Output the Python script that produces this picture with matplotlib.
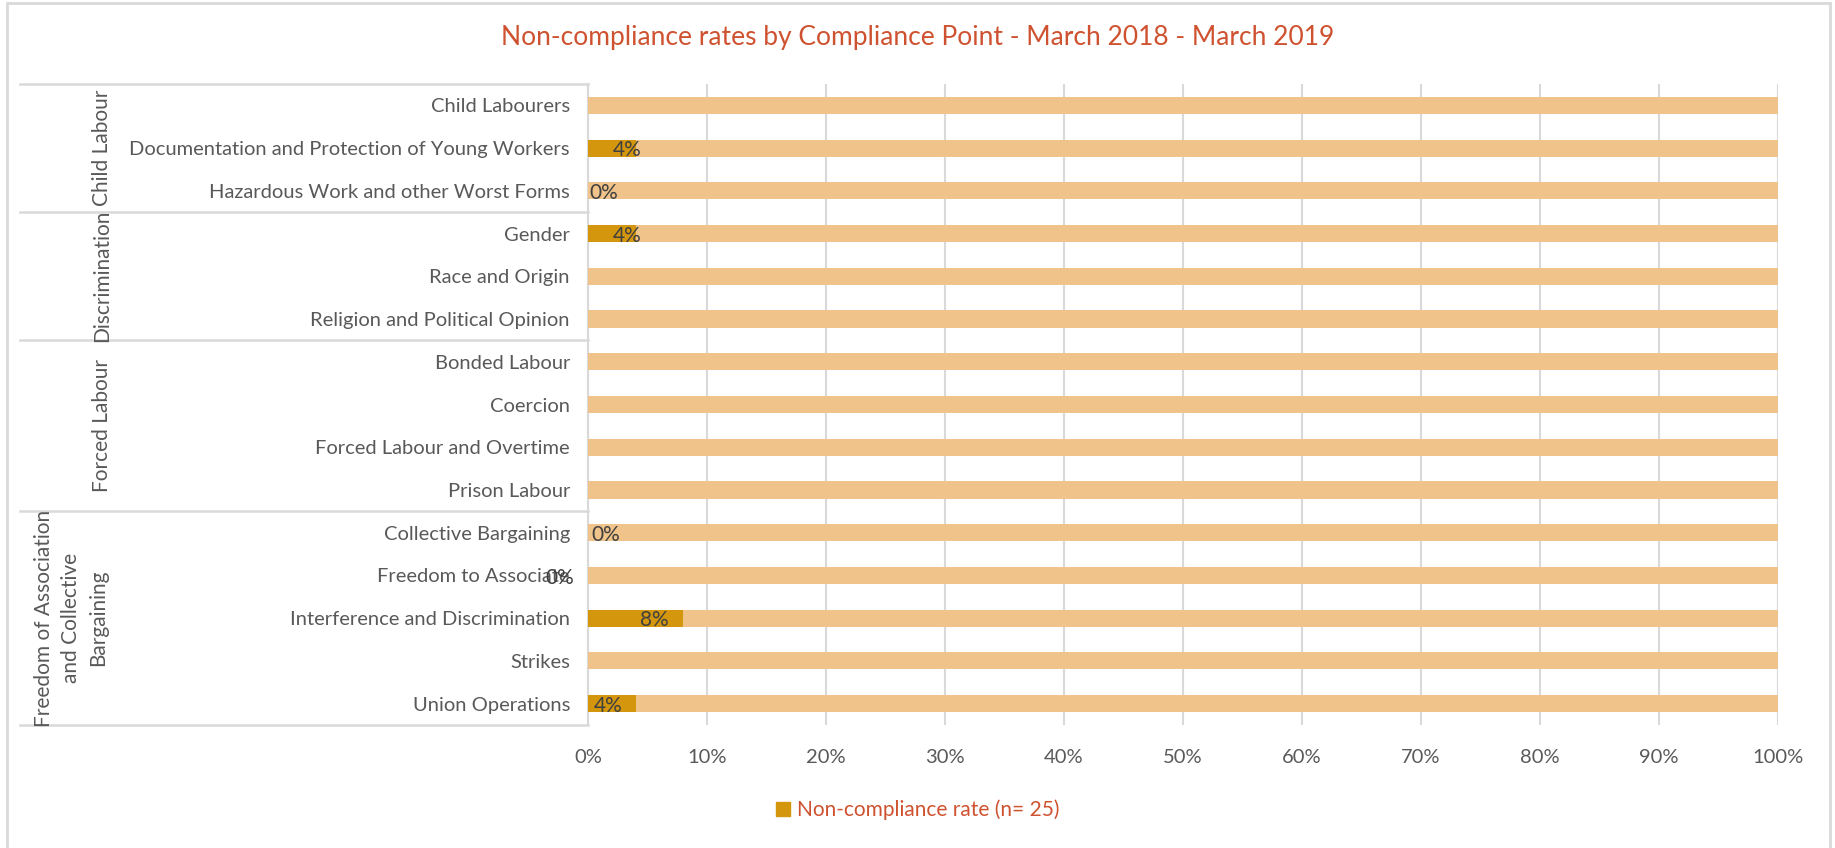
import numpy as np
import matplotlib
matplotlib.use("Agg")
import matplotlib.pyplot as plt
from matplotlib.patches import Patch, Rectangle
from matplotlib.transforms import blended_transform_factory

plt.rcParams['font.family'] = ['Lato', 'DejaVu Sans']

categories = [
    "Child Labourers",
    "Documentation and Protection of Young Workers",
    "Hazardous Work and other Worst Forms",
    "Gender",
    "Race and Origin",
    "Religion and Political Opinion",
    "Bonded Labour",
    "Coercion",
    "Forced Labour and Overtime",
    "Prison Labour",
    "Collective Bargaining",
    "Freedom to Associate",
    "Interference and Discrimination",
    "Strikes",
    "Union Operations",
]
# non-compliance rate in %, nan = no value shown
rates = [np.nan, 4, 0, 4, np.nan, np.nan, np.nan, np.nan, np.nan, np.nan,
         0, 0, 8, np.nan, 4]

groups = ["Child Labour", "Discrimination", "Forced Labour",
          "Freedom of Association\nand Collective\nBargaining"]
group_sizes = [3, 3, 4, 5]

# where excel left the data labels (x in %)
label_x = [None, 3.3, 1.3, 3.3, None, None, None, None, None, None,
           1.5, -2.4, 5.6, None, 1.7]

title = "Non-compliance rates by Compliance Point - March 2018 - March 2019"
legend_label = "Non-compliance rate (n= 25)"

dark = "#D3960D"
light = "#EFC389"
grey_txt = "#595959"
grid_c = "#D9D9D9"
red_txt = "#CF5230"

rates = np.array(rates, dtype=float)
dark_vals = np.nan_to_num(rates)
light_vals = 100 - dark_vals
y = np.arange(len(categories))

fig = plt.figure(figsize=(18.35, 8.48), dpi=100)
ax = fig.add_axes([588/1835, 1-725/848, 1190/1835, 641/848])

ax.barh(y, dark_vals, height=0.4, color=dark, zorder=3)
ax.barh(y, light_vals, left=dark_vals, height=0.4, color=light, zorder=3)

for i, r in enumerate(rates):
    if not np.isnan(r):
        ax.text(label_x[i], i + 0.05, "%d%%" % r, ha="center", va="center",
                fontsize=15, color="#404040", zorder=4)

ax.set_xlim(0, 100)
ax.set_ylim(len(categories) - 0.5, -0.5)
ax.set_xticks(np.arange(0, 101, 10))
ax.set_xticklabels(["%d%%" % v for v in range(0, 101, 10)])
ax.set_yticks(y)
ax.set_yticklabels(categories)
ax.tick_params(axis="both", length=0, labelsize=14.5, colors=grey_txt)
ax.tick_params(axis="x", pad=17)
ax.tick_params(axis="y", pad=13)
ax.xaxis.grid(True, color=grid_c, linewidth=1.5, zorder=0)
for s in ["top", "right", "bottom"]:
    ax.spines[s].set_visible(False)
ax.spines["left"].set_color(grid_c)
ax.spines["left"].set_linewidth(1.5)

# group separators on the left
tr = blended_transform_factory(fig.transFigure, ax.transData)
bounds = np.concatenate([[0], np.cumsum(group_sizes)]) - 0.5
for b in bounds:
    ax.plot([20/1835, 588/1835], [b, b], transform=tr, color=grid_c,
            linewidth=1.8, clip_on=False)
for g, lo, hi in zip(groups, bounds[:-1], bounds[1:]):
    xg = 102/1835 if "\n" not in g else 71/1835
    ax.text(xg, (lo + hi) / 2, g, transform=tr, rotation=90, ha="center",
            va="center", multialignment="center", fontsize=15,
            color=grey_txt, linespacing=1.45)

# outer frame
fig.patches.append(Rectangle((7/1835, -0.01), 1823/1835, 1-3/848 + 0.01,
                             transform=fig.transFigure, fill=False,
                             edgecolor=grid_c, linewidth=2))

fig.text(0.5, 1-37/848, title, ha="center", va="center", fontsize=19,
         color=red_txt)
leg = fig.legend(handles=[Patch(color=dark, label=legend_label)],
                 loc="center", bbox_to_anchor=(0.5, 1-810/848), frameon=False,
                 fontsize=15, handlelength=0.7, handleheight=0.7,
                 handletextpad=0.3)
for t in leg.get_texts():
    t.set_color(red_txt)

fig.savefig("out.png", dpi=100)
